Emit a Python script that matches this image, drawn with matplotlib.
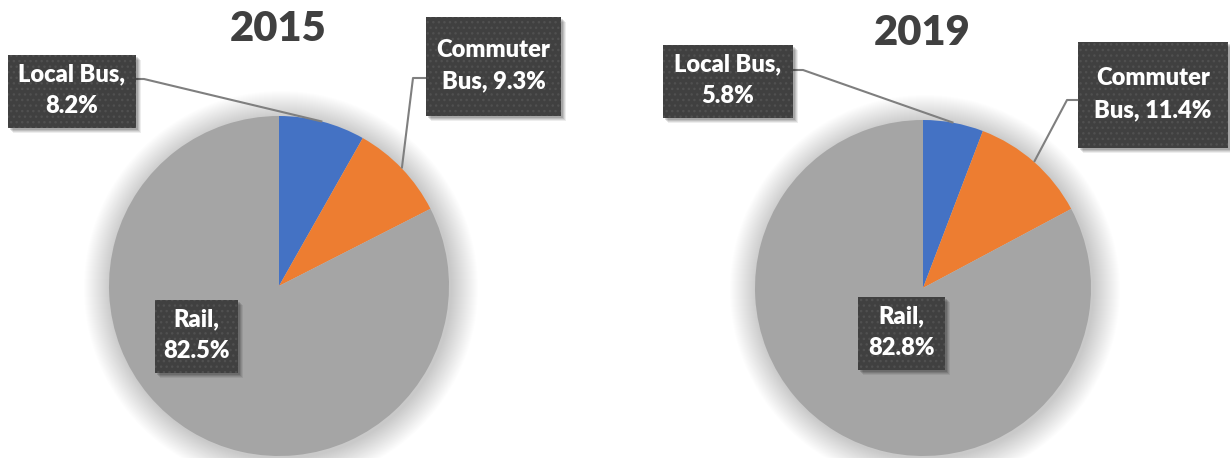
import numpy as np
import matplotlib.pyplot as plt
from matplotlib.patches import Rectangle, Circle

# shares of trips by mode (percent)
categories = ['Local Bus', 'Commuter Bus', 'Rail']
years = ['2015', '2019']
share_2015 = [8.2, 9.3, 82.5]
share_2019 = [5.8, 11.4, 82.8]
labels_2015 = ['Local Bus,\n8.2%', 'Commuter\nBus, 9.3%', 'Rail,\n82.5%']
labels_2019 = ['Local Bus,\n5.8%', 'Commuter\nBus, 11.4%', 'Rail,\n82.8%']
colors = ['#4472C4', '#ED7D31', '#A5A5A5']

W, H = 1230, 458
FONT = ['Lato', 'DejaVu Sans']


def Y(py):
    return H - py


# layout in pixels (x, y from top)
layouts = [
    dict(center=(279, 286), r=170, title=(278, 41),
         boxes=[(8, 55, 136, 128), (426, 17, 561, 116), (155, 300, 238, 373)],
         leader=[('right', 79, 8), ('left', 78, 13), None]),
    dict(center=(923, 288), r=168, title=(922, 45),
         boxes=[(663, 45, 793, 118), (1078, 42, 1228, 148), (858, 297, 945, 370)],
         leader=[('right', 70, 10), ('left', 100, 11), None]),
]

fig = plt.figure(figsize=(W / 100, H / 100), dpi=100)
ax = fig.add_axes([0, 0, 1, 1])

for year, vals, texts, lay in zip(years, [share_2015, share_2019],
                                  [labels_2015, labels_2019], layouts):
    cx, cy = lay['center']
    r = lay['r']

    # soft glow behind pie
    for i in range(1, 28):
        ax.add_patch(Circle((cx + 2, Y(cy) - 2), r + i, facecolor='black',
                            alpha=0.007, lw=0, zorder=0))

    ax.pie(vals, colors=colors, startangle=90, counterclock=False,
           center=(cx, Y(cy)), radius=r, wedgeprops=dict(linewidth=0))

    tx, ty = lay['title']
    ax.text(tx, Y(ty), year, ha='center', va='baseline', fontsize=30,
            fontweight='heavy', color='#404040', family=FONT, zorder=5)

    cum = np.cumsum([0] + vals[:-1])
    for v, c0, txt, box, ld in zip(vals, cum, texts, lay['boxes'], lay['leader']):
        x0, y0, x1, y1 = box
        if ld is not None:
            side, ly, stub = ld
            ang = np.deg2rad(90 - 360 * (c0 + v / 2) / 100)
            axp, ayp = cx + r * np.cos(ang), Y(cy) + r * np.sin(ang)
            sx = x1 if side == 'right' else x0
            ex = sx + stub if side == 'right' else sx - stub
            ax.plot([sx, ex, axp], [Y(ly), Y(ly), ayp], color='#7f7f7f',
                    lw=1.5, zorder=3, solid_capstyle='butt')
        # shadow
        for k, a in [(5, 0.07), (4, 0.09), (3, 0.11), (2, 0.13)]:
            ax.add_patch(Rectangle((x0 + k, Y(y1) - k), x1 - x0, y1 - y0,
                                   facecolor='black', alpha=a, lw=0, zorder=4))
        ax.add_patch(Rectangle((x0, Y(y1)), x1 - x0, y1 - y0,
                               facecolor='#404040', edgecolor='#505050',
                               lw=0, hatch='...', zorder=4))
        ax.text((x0 + x1) / 2, Y((y0 + y1) / 2) + 1, txt, ha='center', va='center',
                multialignment='center', fontsize=17, fontweight='heavy',
                color='white', family=FONT, linespacing=1.55, zorder=6)

ax.set_xlim(0, W)
ax.set_ylim(0, H)
ax.set_aspect('auto')
ax.axis('off')

fig.savefig('out.png', dpi=100)
